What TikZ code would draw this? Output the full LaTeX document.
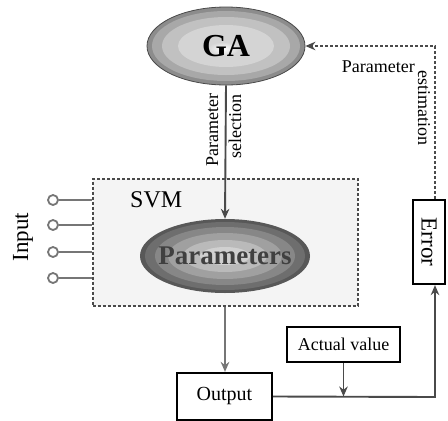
\documentclass[tikz,border=0pt]{standalone}
\usepackage{fontspec}
\setmainfont{Liberation Serif}
\usetikzlibrary{shapes.geometric,arrows.meta,calc}
\definecolor{lineg}{HTML}{4A4A4A}
\definecolor{lightg}{HTML}{767676}
\definecolor{boxfill}{HTML}{F4F4F4}
\tikzset{
  txt/.style={inner sep=0pt,font=\fontsize{18}{20}\selectfont},
  blk/.style={draw=black,line width=2.2pt,inner sep=0pt},
  tip/.style={-{Stealth[length=10pt,width=8.5pt]}},
  conn/.style={draw=lineg,line width=1.9pt,tip},
  gconn/.style={draw=lightg,line width=1.9pt,tip},
  dconn/.style={draw=lineg,line width=1.7pt,dash pattern=on 3pt off 2pt,tip},
  ell/.style={ellipse,inner sep=0pt}
}
\begin{document}
\begin{tikzpicture}[x=1pt,y=-1pt]
\useasboundingbox[fill=white] (0,0) rectangle (448,421);

% SVM dashed box
\node[draw=lineg,line width=1.5pt,dash pattern=on 3pt off 2pt,fill=boxfill,
      minimum width=265pt,minimum height=127pt,inner sep=0pt,anchor=north west] (svm) at (92,178) {};
\node[inner sep=0pt,anchor=base west,font=\fontsize{24}{26}\selectfont] (svmt) at (130,207) {SVM};

% GA ellipse
\node[ell,minimum width=158pt,minimum height=78pt,draw=lineg,line width=0.8pt,fill={rgb,255:red,140;green,140;blue,140}] (GA) at (226,46) {};
\fill[color={rgb,255:red,168;green,168;blue,168}] (GA.center) ellipse [x radius=74pt,y radius=35pt];
\fill[color={rgb,255:red,193;green,193;blue,193}] (GA.center) ellipse [x radius=64pt,y radius=29pt];
\fill[color={rgb,255:red,212;green,212;blue,212}] (GA.center) ellipse [x radius=48pt,y radius=21pt];
\shade[inner color=white,outer color={rgb,255:red,212;green,212;blue,212}] ($(GA.center)+(-3,3)$) ellipse [x radius=16pt,y radius=7pt];
\node[inner sep=0pt,font=\fontsize{32}{34}\selectfont\bfseries] (GAt) at (GA.center) {GA};

% Parameters ellipse
\node[ell,minimum width=170pt,minimum height=74pt,fill={rgb,255:red,88;green,88;blue,88}] (par) at (225,256) {};
\fill[color={rgb,255:red,110;green,110;blue,110}] (par.center) ellipse [x radius=80pt,y radius=34pt];
\fill[color={rgb,255:red,135;green,135;blue,135}] (par.center) ellipse [x radius=70pt,y radius=29pt];
\fill[color={rgb,255:red,160;green,160;blue,160}] (par.center) ellipse [x radius=57pt,y radius=23pt];
\fill[color={rgb,255:red,186;green,186;blue,186}] (par.center) ellipse [x radius=42pt,y radius=16pt];
\fill[color={rgb,255:red,208;green,208;blue,208}] (par.center) ellipse [x radius=25pt,y radius=9pt];
\node[inner sep=0pt,text={rgb,255:red,64;green,64;blue,64},font=\fontsize{27}{29}\selectfont\bfseries] (part) at (par.center) {Parameters};

% GA -> Parameters
\draw[conn] (GA.south) -- (par.north);
\node[txt,rotate=90,anchor=base east] (psel1) at (218,93) {Parameter};
\node[txt,rotate=90,anchor=base east] (psel2) at (241,94) {selection};

% Error box
\node[blk,rotate=-90,minimum width=84pt,minimum height=32pt,font=\fontsize{23}{25}\selectfont] (err) at (429,242) {Error};

% Inputs
\foreach \i/\yy in {1/200,2/225,3/252,4/278}{
  \node[circle,draw=lightg,line width=1.8pt,minimum size=10pt,inner sep=0pt] (in\i) at (53,\yy) {};
  \draw[lightg,line width=1.9pt] (in\i.east) -- (in\i.east -| svm.west);
}
\node[inner sep=0pt,rotate=90,anchor=base,font=\fontsize{23}{25}\selectfont] (inp) at (28,237) {Input};

% Output box
\node[blk,minimum width=95pt,minimum height=47pt,font=\fontsize{20}{22}\selectfont] (out) at (224.5,396.5) {Output};
\draw[gconn] (svm.south -| par.center) -- (out.north -| par.center);

% Actual value
\node[blk,minimum width=113pt,minimum height=35pt,txt] (act) at (343.5,344.5) {Actual value};
\coordinate (j) at (act.south |- out.east);
\coordinate (cr) at (435,397);
\draw[conn] (out.east) -- (cr) -- (cr |- err.east);
\draw[conn] (act.south) -- (j);

% Parameter estimation feedback
\coordinate (ct) at (435,46);
\draw[dconn] (ct |- err.west) -- (ct) -- (GA.east);
\node[txt,anchor=base east] (pest) at (415,72) {Parameter};
\node[txt,rotate=-90,anchor=base west] (pest2) at (418,70) {estimation};
\end{tikzpicture}
\end{document}
